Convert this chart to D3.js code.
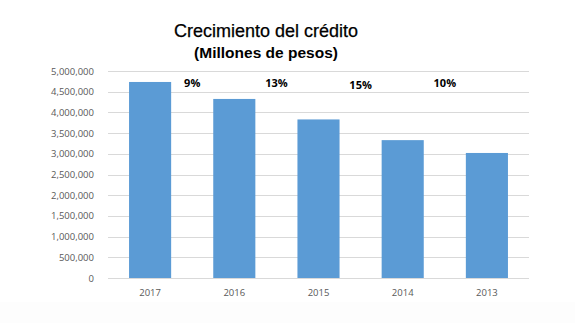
<!DOCTYPE html>
<html>
<head>
<meta charset="utf-8">
<script src="https://cdn.jsdelivr.net/npm/d3@7"></script>
<style>
  html, body { margin: 0; padding: 0; background: #ffffff; }
  svg { display: block; }
</style>
</head>
<body>
<script>
// Saldo de crédito por año (millones de pesos)
const years = ["2017", "2016", "2015", "2014", "2013"];
const credit = [4735000, 4325000, 3830000, 3330000, 3020000];
// Crecimiento anual, entre cada par de años consecutivos
const growthLabels = ["9%", "13%", "15%", "10%"];
const yTicks = [0, 500000, 1000000, 1500000, 2000000, 2500000, 3000000, 3500000, 4000000, 4500000, 5000000];

const W = 575, H = 323;
const margin = { top: 71, right: 46, bottom: 45, left: 108 };

const svg = d3.select("body").append("svg")
  .attr("width", W).attr("height", H);

// Franja inferior ligeramente gris
svg.append("rect")
  .attr("x", 0).attr("y", 302)
  .attr("width", W).attr("height", H - 302)
  .attr("fill", "#fdfdfd");

const x = d3.scaleBand()
  .domain(years)
  .range([margin.left, W - margin.right])
  .paddingInner(0.5)
  .paddingOuter(0.25);

const y = d3.scaleLinear()
  .domain([0, 5000000])
  .range([H - margin.bottom, margin.top]);

// Título
svg.append("text")
  .attr("x", 266).attr("y", 37)
  .attr("text-anchor", "middle")
  .attr("font-family", "'Liberation Sans', Arial, sans-serif")
  .attr("font-size", 18)
  .attr("fill", "#000")
  .attr("stroke", "#000")
  .attr("stroke-width", 0.25)
  .text("Crecimiento del crédito");

svg.append("text")
  .attr("x", 266).attr("y", 57.5)
  .attr("text-anchor", "middle")
  .attr("font-family", "'Liberation Sans', Arial, sans-serif")
  .attr("font-size", 15.5)
  .attr("font-weight", 700)
  .attr("fill", "#000")
  .text("(Millones de pesos)");

// Líneas de cuadrícula horizontales
svg.append("g")
  .selectAll("line")
  .data(yTicks)
  .join("line")
  .attr("x1", margin.left)
  .attr("x2", W - margin.right)
  .attr("y1", d => Math.round(y(d)) + 0.5)
  .attr("y2", d => Math.round(y(d)) + 0.5)
  .attr("stroke", "#d9d9d9")
  .attr("stroke-width", 1);

// Eje Y
const yAxis = svg.append("g")
  .attr("transform", `translate(${margin.left - 11},0)`)
  .call(d3.axisLeft(y).tickValues(yTicks).tickFormat(d3.format(",")).tickSize(0));
yAxis.select(".domain").remove();
yAxis.selectAll("text")
  .attr("font-family", "'Open Sans', sans-serif")
  .attr("font-size", 9.5)
  .attr("fill", "#595959");

// Barras
svg.append("g")
  .selectAll("rect")
  .data(years.map((yr, i) => ({ yr, v: credit[i] })))
  .join("rect")
  .attr("x", d => x(d.yr))
  .attr("width", x.bandwidth())
  .attr("y", d => y(d.v))
  .attr("height", d => y(0) - y(d.v))
  .attr("fill", "#5b9bd5");

// Eje X
const xAxis = svg.append("g")
  .attr("transform", `translate(0,${H - margin.bottom + 8})`)
  .call(d3.axisBottom(x).tickSize(0));
xAxis.select(".domain").remove();
xAxis.selectAll("text")
  .attr("font-family", "'Open Sans', sans-serif")
  .attr("font-size", 9.5)
  .attr("fill", "#595959");

// Etiquetas de crecimiento entre barras
const labelDy = [0, 0, 2, 0];
svg.append("g")
  .selectAll("text")
  .data(growthLabels)
  .join("text")
  .attr("x", (d, i) => (x(years[i]) + x.bandwidth() + x(years[i + 1])) / 2)
  .attr("y", (d, i) => 87 + labelDy[i])
  .attr("text-anchor", "middle")
  .attr("font-family", "'Open Sans', sans-serif")
  .attr("font-size", 11)
  .attr("font-weight", 700)
  .attr("fill", "#000")
  .text(d => d);
</script>
</body>
</html>
